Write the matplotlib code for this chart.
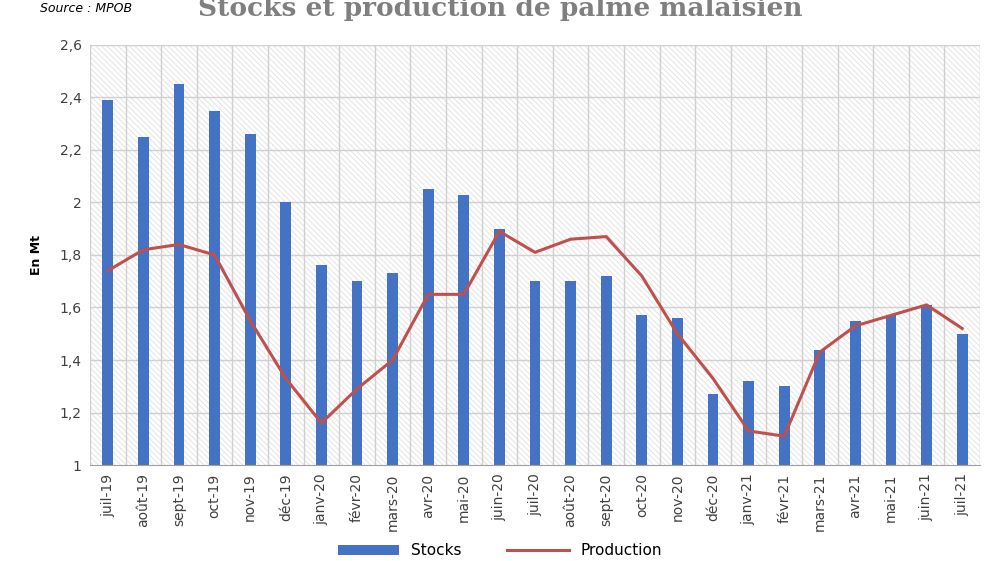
import matplotlib
matplotlib.use("Agg")
import matplotlib.pyplot as plt
import numpy as np

months = ["juil-19","août-19","sept-19","oct-19","nov-19","déc-19","janv-20","févr-20","mars-20","avr-20","mai-20","juin-20","juil-20","août-20","sept-20","oct-20","nov-20","déc-20","janv-21","févr-21","mars-21","avr-21","mai-21","juin-21","juil-21"]
stocks = [2.39,2.25,2.45,2.35,2.26,2.00,1.76,1.70,1.73,2.05,2.03,1.90,1.70,1.70,1.72,1.57,1.56,1.27,1.32,1.30,1.44,1.55,1.57,1.61,1.50]
production = [1.74,1.82,1.84,1.80,1.55,1.33,1.16,1.29,1.40,1.65,1.65,1.89,1.81,1.86,1.87,1.72,1.50,1.33,1.13,1.11,1.43,1.53,1.57,1.61,1.52]

plt.rcParams["hatch.color"] = "#e0e0e0"
plt.rcParams["hatch.linewidth"] = 0.6
fig = plt.figure(figsize=(10, 5.61), dpi=100)
ax = fig.add_axes([0.09, 0.171, 0.89, 0.749])
x = np.arange(len(months))
ax.set_xlim(-0.5, len(months) - 0.5)
ax.set_ylim(1, 2.6)
ax.add_patch(plt.Rectangle((-0.5, 1), len(months), 1.6, facecolor="white",
                           hatch="\\\\\\\\\\\\", lw=0, zorder=0))
for v in np.arange(1.2, 2.61, 0.2):
    ax.axhline(v, color="#d0d0d0", lw=1, zorder=0.5)
for i in range(len(months) + 1):
    ax.axvline(i - 0.5, color="#d0d0d0", lw=1, zorder=0.5)
b = ax.bar(x, stocks, width=0.3, color="#4472C4", zorder=2, label="Stocks")
l, = ax.plot(x, production, color="#C0504D", lw=2.2, zorder=3, label="Production")
ax.set_yticks(np.arange(1, 2.61, 0.2))
ax.set_yticklabels([f"{v:.1f}".replace(".", ",").replace(",0", "") for v in np.arange(1, 2.61, 0.2)], fontsize=10, color="#404040")
ax.set_xticks(x)
ax.set_xticklabels(months, rotation=90, fontsize=10, color="#404040")
ax.tick_params(length=0, pad=6)
for s in ax.spines.values():
    s.set_visible(False)
ax.spines["bottom"].set_visible(True)
ax.spines["bottom"].set_color("#a0a0a0")
ax.set_ylabel("En Mt", fontsize=9, fontweight="bold", labelpad=12)
fig.text(0.5, 0.985, "Stocks et production de palme malaisien", ha="center", va="center",
         fontsize=19, fontweight="bold", color="#7f7f7f", family="DejaVu Serif")
fig.text(0.04, 0.985, "Source : MPOB", ha="left", va="center", fontsize=9, style="italic")
fig.legend([b, l], ["Stocks", "Production"], loc="lower center", bbox_to_anchor=(0.5, -0.02),
           ncol=2, frameon=False, fontsize=11, handlelength=4, columnspacing=3)
fig.savefig("out.png", dpi=100)
